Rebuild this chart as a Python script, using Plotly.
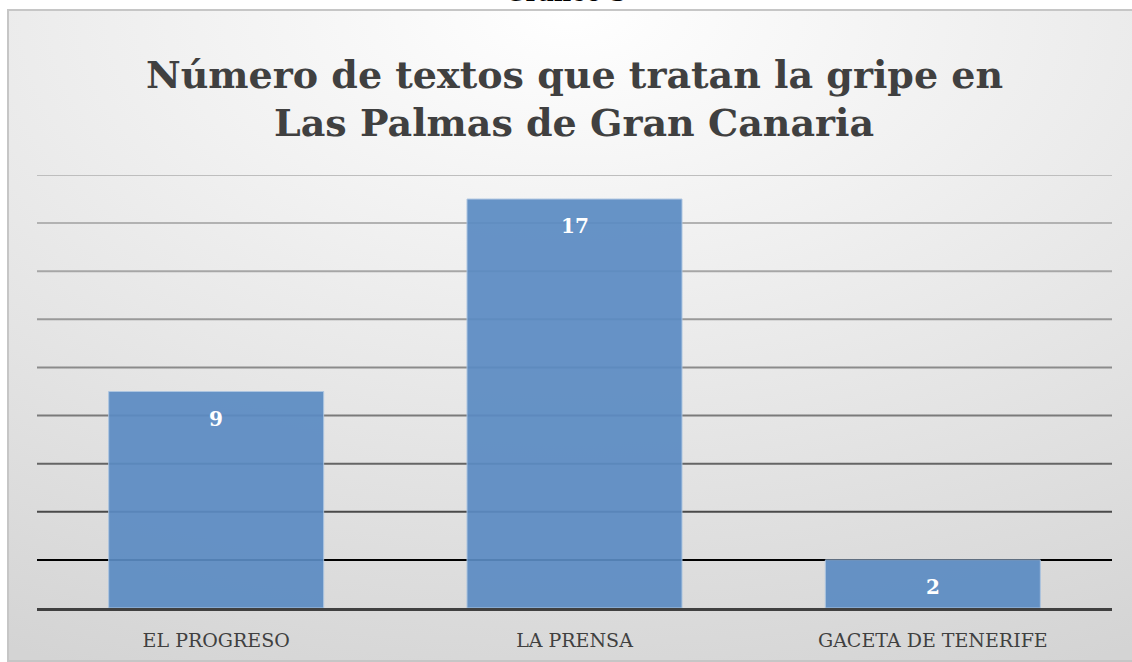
import base64

import plotly.graph_objects as go

periodicos = ['EL PROGRESO', 'LA PRENSA', 'GACETA DE TENERIFE']
textos = [9, 17, 2]
marcas_y = [0, 2, 4, 6, 8, 10, 12, 14, 16, 18]

W, H = 1132, 662
L, R, T, B = 37, 20, 175, 54
pw, ph = W - L - R, H - T - B


def px_x(v):
    return (v - L) / pw


def px_y(v):
    return (H - B - v) / ph


# background: radial gradient, white near the title, gray towards the corners
svg = (
    '<svg xmlns="http://www.w3.org/2000/svg" width="1130" height="652">'
    '<defs><radialGradient id="g" cx="50%" cy="0%" r="110%">'
    '<stop offset="0%" stop-color="#ffffff"/>'
    '<stop offset="100%" stop-color="#d4d4d4"/>'
    '</radialGradient></defs>'
    '<rect width="1130" height="652" fill="url(#g)"/></svg>'
)
fondo = 'data:image/svg+xml;base64,' + base64.b64encode(svg.encode()).decode()

fig = go.Figure()
fig.add_trace(go.Bar(
    x=periodicos, y=textos,
    marker=dict(color='#5b8bc3', line=dict(color='#a9c3e0', width=1)),
    opacity=0.92, textposition='none', hoverinfo='skip',
))

# value labels a little under the top of each bar
notas = [dict(x=p, y=v, text=f'<b>{v}</b>', xref='x', yref='y', showarrow=False,
              yanchor='top', yshift=-13,
              font=dict(family='DejaVu Serif', size=20, color='white'))
         for p, v in zip(periodicos, textos)]

# gridlines fade from light gray at the top to black at the bottom
shapes = []
for v in marcas_y[1:]:
    k = (v - 2) / 16
    g = int(190 * k ** 0.45)
    shapes.append(dict(type='line', xref='paper', yref='y', x0=0, x1=1, y0=v, y1=v,
                       line=dict(color=f'rgb({g},{g},{g})', width=2), layer='below'))
# chart frame
shapes.append(dict(type='rect', xref='paper', yref='paper',
                   x0=px_x(8), x1=px_x(1140), y0=px_y(661), y1=px_y(10),
                   line=dict(color='#c6c6c6', width=2), layer='below'))

fig.update_layout(
    width=W, height=H,
    margin=dict(l=L, r=R, t=T, b=B),
    paper_bgcolor='white', plot_bgcolor='rgba(0,0,0,0)',
    showlegend=False, bargap=0.4,
    shapes=shapes,
    images=[dict(source=fondo, xref='paper', yref='paper',
                 x=px_x(8), y=px_y(10), sizex=(1132 - 8) / pw, sizey=(661 - 10) / ph,
                 xanchor='left', yanchor='top', sizing='stretch', layer='below')],
    annotations=notas + [
        dict(text='<b>Gráfico 3</b>', xref='paper', yref='paper', x=px_x(566), y=px_y(9),
             xanchor='center', yanchor='bottom', showarrow=False,
             font=dict(family='DejaVu Serif', size=24, color='black')),
        dict(text='<b>Número de textos que tratan la gripe en</b>', xref='paper', yref='paper',
             x=px_x(574), y=px_y(75), xanchor='center', yanchor='middle', showarrow=False,
             font=dict(family='DejaVu Serif', size=38, color='#404040')),
        dict(text='<b>Las Palmas de Gran Canaria</b>', xref='paper', yref='paper',
             x=px_x(574), y=px_y(122), xanchor='center', yanchor='middle', showarrow=False,
             font=dict(family='DejaVu Serif', size=38, color='#404040')),
    ],
    xaxis=dict(showline=True, linecolor='#404040', linewidth=3, ticks='',
               ticklabelstandoff=13,
               tickfont=dict(family='DejaVu Serif', size=19, color='#404040'),
               showgrid=False, fixedrange=True),
    yaxis=dict(range=[0, 18], tickvals=marcas_y, showticklabels=False, showgrid=False,
               zeroline=False, fixedrange=True),
)

fig.write_html('out.html', config={'displayModeBar': False},
               post_script="document.body.style.margin='0';")
